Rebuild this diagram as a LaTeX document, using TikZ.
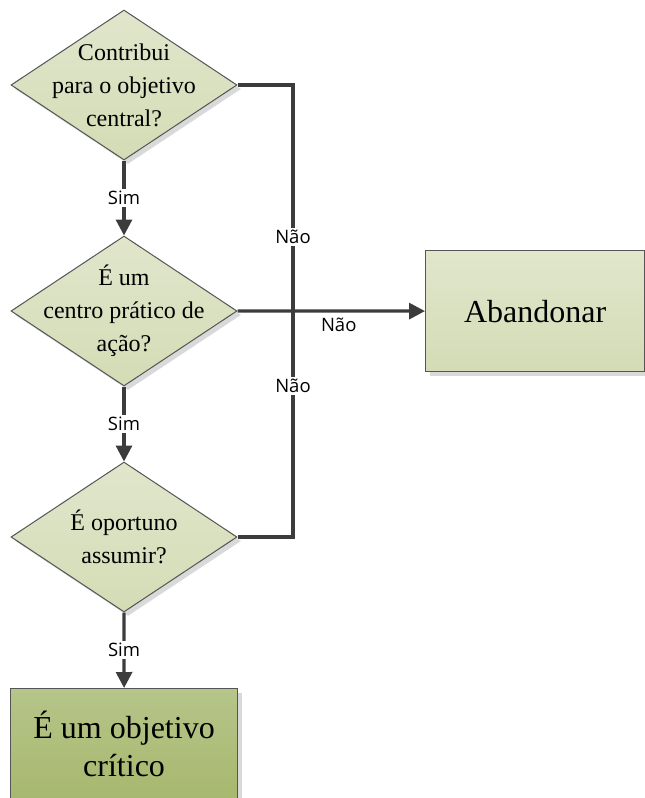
\documentclass[tikz,border=0pt]{standalone}
\usepackage{fontspec}
\setmainfont{Liberation Serif}
\newfontfamily\lblfont{Open Sans}
\usetikzlibrary{shapes.geometric,arrows.meta,shadows}
\definecolor{linegray}{HTML}{3C3C3C}
\definecolor{edgegray}{HTML}{555555}
\definecolor{shadowgray}{HTML}{D9D9D9}
\definecolor{paletop}{HTML}{E1E6CC}
\definecolor{palebot}{HTML}{D3DCB5}
\definecolor{deeptop}{HTML}{B6C589}
\definecolor{deepbot}{HTML}{A7B86F}
\tikzset{
  softshadow/.style={drop shadow={shadow xshift=4pt, shadow yshift=-4pt, fill=shadowgray, opacity=1}},
  decision/.style={diamond, draw=edgegray, line width=1pt, top color=paletop, bottom color=palebot,
    minimum width=226pt, minimum height=150pt, inner sep=0pt, softshadow},
  qtext/.style={align=center, font=\fontsize{24}{33}\selectfont, text=black},
  outbox/.style={rectangle, draw=edgegray, line width=1.2pt, align=center, anchor=north west,
    font=\fontsize{32}{38}\selectfont, softshadow, inner sep=0pt},
  flow/.style={draw=linegray, line width=3.2pt},
  flowarrow/.style={flow, -{Triangle[length=16pt, width=16pt]}},
  lbl/.style={fill=white, inner sep=2pt, font=\lblfont\fontsize{18.5}{21}\selectfont, text=black},
}
\begin{document}
\begin{tikzpicture}[x=1pt, y=-1pt]
  \clip (0,0) rectangle (645,798);
  \fill[white] (0,0) rectangle (645,798);

  % decisions
  \node[decision, label={[qtext]center:Contribui\\para o objetivo\\central?}] (d1) at (124,85) {};
  \node[decision, label={[qtext]center:É um\\centro prático de\\ação?}] (d2) at (124,311) {};
  \node[decision, label={[qtext]center:É oportuno\\assumir?}] (d3) at (124,537) {};

  % outcomes
  \node[outbox, top color=paletop, bottom color=palebot, minimum width=219pt, minimum height=121pt] (ab) at (425,250) {Abandonar};
  \node[outbox, top color=deeptop, bottom color=deepbot, minimum width=227pt, minimum height=110pt] (crit) at (10,688) {É um objetivo\\crítico};

  % "yes" path
  \draw[flowarrow] (d1.south) -- node[lbl]{Sim} (d2.north);
  \draw[flowarrow] (d2.south) -- node[lbl]{Sim} (d3.north);
  \draw[flowarrow] (d3.south) -- node[lbl]{Sim} (crit.north);

  % "no" paths meet on the arrow into Abandonar
  \coordinate (join) at (293,311);
  \draw[flow] (d1.east) -| node[lbl, pos=0.836]{Não} (join);
  \draw[flow] (d3.east) -| node[lbl, pos=0.834]{Não} (join);
  \draw[flowarrow] (d2.east) -- node[lbl, fill=none, below=3pt, pos=0.54]{Não} (ab.west);
\end{tikzpicture}
\end{document}
